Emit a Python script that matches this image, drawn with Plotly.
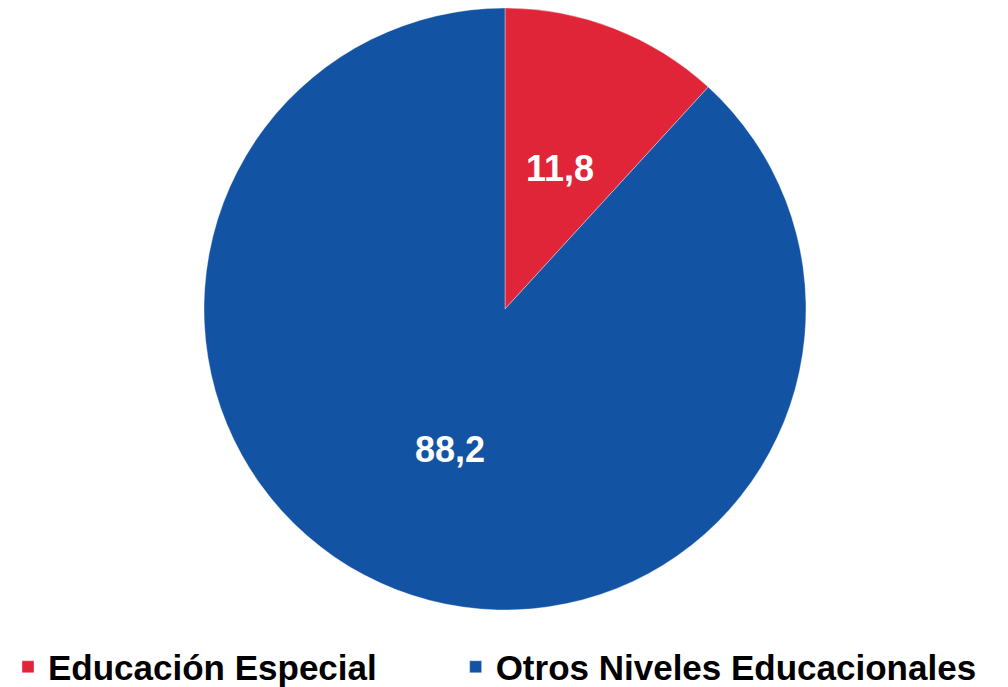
import math
import plotly.graph_objects as go

categories = ["Educación Especial", "Otros Niveles Educacionales"]
values = [11.8, 88.2]
colors = ["#E12538", "#1253A4"]
value_labels = ["11,8", "88,2"]

# page is 1008x687; the html body has an 8px margin, so the figure is drawn 8px in
PAGE_W, PAGE_H, OFF = 1008, 687, 8
W, H = PAGE_W - OFF, PAGE_H - OFF
cx, cy, R = 505 - OFF, 309 - OFF, 301  # pie centre / radius in figure px

dom_x = [max(0, (cx - R) / W), min(1, (cx + R) / W)]
dom_y = [max(0, (H - (cy + R)) / H), min(1, (H - (cy - R)) / H)]

# legend entries: first one padded with non-breaking spaces to widen the gap between entries
legend_names = [categories[0] + "\u00a0" * 4 + "\u2002" * 2, categories[1]]

fig = go.Figure(
    go.Pie(
        labels=legend_names,
        values=values,
        marker=dict(colors=colors, line=dict(color="rgba(255,255,255,0.6)", width=0.6)),
        sort=False,
        direction="clockwise",
        rotation=0,
        textinfo="none",
        hovertext=categories,
        hoverinfo="text+value",
        domain=dict(x=dom_x, y=dom_y),
    )
)

# value labels placed at mid-angle of each slice, half the radius out
total = sum(values)
start = 0.0
for v, lab in zip(values, value_labels):
    mid = (start + v / 2) / total * 2 * math.pi
    px = cx + 0.5 * R * math.sin(mid)
    py = cy - 0.5 * R * math.cos(mid)
    fig.add_annotation(
        x=px / W, y=1 - py / H, xref="paper", yref="paper",
        xanchor="center", yanchor="middle",
        text=lab, showarrow=False,
        font=dict(family="Liberation Sans, Arial, sans-serif", size=36, color="white", weight="bold"),
    )
    start += v

fig.update_layout(
    width=W, height=H,
    margin=dict(l=0, r=0, t=0, b=0, autoexpand=False),
    paper_bgcolor="white",
    plot_bgcolor="white",
    showlegend=True,
    legend=dict(
        orientation="h",
        x=0, xanchor="left",
        y=(PAGE_H - 667) / H, yanchor="middle",
        font=dict(family="Liberation Sans, Arial, sans-serif", size=35, color="black", weight="bold"),
        traceorder="normal",
    ),
)

fig.write_html("out.html")
